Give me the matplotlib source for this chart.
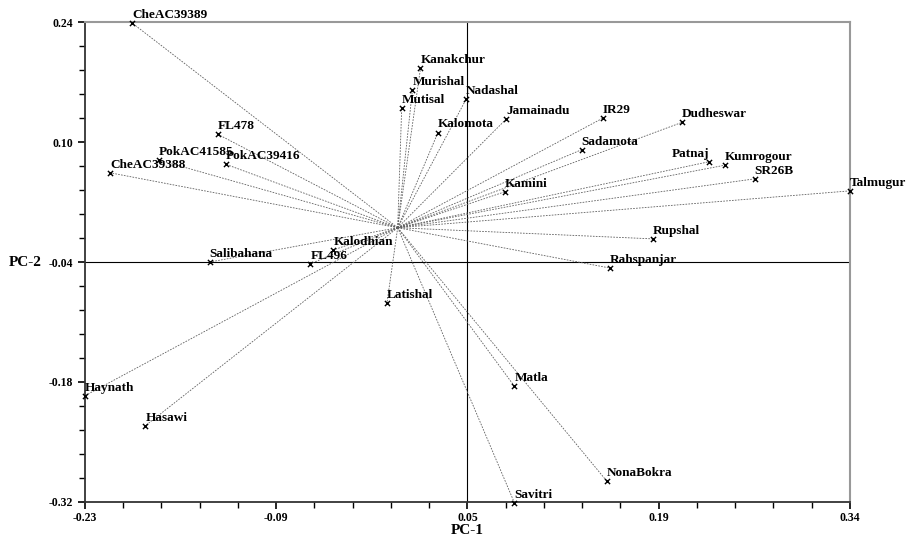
import numpy as np
import matplotlib.pyplot as plt
from matplotlib.ticker import AutoMinorLocator

plt.rcParams['font.family'] = ['Liberation Serif', 'DejaVu Serif']

# Genotypes and their PC scores
names = ['CheAC39389', 'Kanakchur', 'Murishal', 'Mutisal', 'Nadashal', 'Kalomota',
         'FL478', 'PokAC41585', 'PokAC39416', 'CheAC39388', 'Kalodhian', 'Salibahana',
         'FL496', 'Latishal', 'Haynath', 'Hasawi', 'Matla', 'NonaBokra', 'Savitri',
         'Rahspanjar', 'Jamainadu', 'IR29', 'Dudheswar', 'Sadamota', 'Patnaj',
         'Kumrogour', 'SR26B', 'Talmugur', 'Kamini', 'Rupshal']
pc1 = [-0.195, 0.020, 0.014, 0.006, 0.054, 0.033,
       -0.131, -0.175, -0.125, -0.211, -0.045, -0.137,
       -0.062, -0.005, -0.230, -0.185, 0.090, 0.159, 0.090,
       0.161, 0.084, 0.156, 0.215, 0.140, 0.235,
       0.247, 0.269, 0.340, 0.083, 0.193]
pc2 = [0.239, 0.186, 0.161, 0.140, 0.150, 0.111,
       0.109, 0.079, 0.074, 0.064, -0.026, -0.040,
       -0.042, -0.088, -0.196, -0.231, -0.185, -0.296, -0.321,
       -0.047, 0.127, 0.128, 0.123, 0.091, 0.077,
       0.073, 0.057, 0.043, 0.042, -0.013]
origin = (0.003, 0.0)

xticks = ['-0.23', '-0.09', '0.05', '0.19', '0.34']
yticks = ['-0.32', '-0.18', '-0.04', '0.10', '0.24']

fig = plt.figure(figsize=(9.07, 5.37), dpi=100)
ax = fig.add_axes([0.0937, 0.0652, 0.8434, 0.8938])

xmin, xmax = -0.23, 0.34
ymin, ymax = -0.32, 0.24
xt = np.linspace(xmin, xmax, 5)
yt = np.linspace(ymin, ymax, 5)

# crosshair
ax.axvline(xt[2], color='black', lw=0.8, zorder=1)
ax.axhline(yt[2], color='black', lw=0.8, zorder=1)

for n, x, y in zip(names, pc1, pc2):
    ax.plot([origin[0], x], [origin[1], y], color='#606060', lw=0.6,
            linestyle=(0, (2, 1.5)), zorder=2, clip_on=False)
ax.scatter(pc1, pc2, marker='x', color='black', s=14, linewidths=1.0, zorder=3, clip_on=False)

for n, x, y in zip(names, pc1, pc2):
    ha = 'right' if n == 'Patnaj' else 'left'
    ax.annotate(n, (x, y), xytext=(0, 1.5), textcoords='offset points',
                ha=ha, va='bottom', fontsize=9.5, fontweight='bold', zorder=4,
                annotation_clip=False)

ax.set_xlim(xmin, xmax)
ax.set_ylim(ymin, ymax)
ax.set_xticks(xt)
ax.set_xticklabels(xticks)
ax.set_yticks(yt)
ax.set_yticklabels(yticks)
ax.xaxis.set_minor_locator(AutoMinorLocator(5))
ax.yaxis.set_minor_locator(AutoMinorLocator(5))
ax.tick_params(which='major', direction='out', length=5, width=1.2, labelsize=8.5)
ax.tick_params(axis='x', which='major', pad=2)
ax.tick_params(which='minor', direction='out', length=4, width=1.0)
for lab in ax.get_xticklabels() + ax.get_yticklabels():
    lab.set_fontweight('bold')

for s in ['left', 'bottom']:
    ax.spines[s].set_linewidth(1.3)
    ax.spines[s].set_color('#333333')
for s in ['top', 'right']:
    ax.spines[s].set_linewidth(1.5)
    ax.spines[s].set_color('#999999')

fig.text(467 / 907, 1 - 531 / 537, 'PC-1', ha='center', va='center',
         fontsize=11, fontweight='bold')
fig.text(25 / 907, 1 - 263 / 537, 'PC-2', ha='center', va='center',
         fontsize=11, fontweight='bold')

fig.savefig('out.png', dpi=100)
